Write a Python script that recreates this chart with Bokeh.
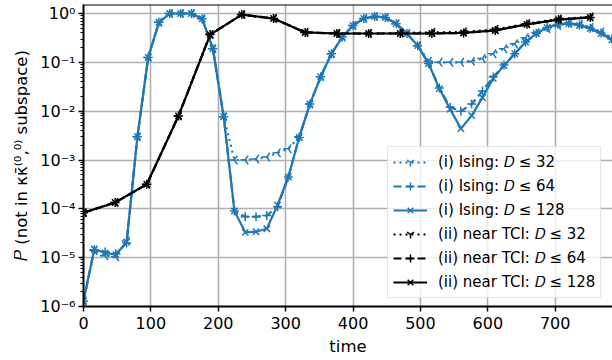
import math
from bokeh.plotting import figure
from bokeh.models import (Range1d, LogTicker, FixedTicker, CustomJSTickFormatter,
                          Legend, LegendItem, Span)
from bokeh.embed import file_html
from bokeh.resources import INLINE

# ---------------- data ----------------
t_ising = [0, 16, 32, 48, 64, 80, 96, 112, 128, 144, 160, 176, 192, 208, 224, 240,
           256, 272, 288, 304, 320, 336, 352, 368, 384, 400, 416, 432, 448, 464, 480,
           496, 512, 528, 544, 560, 576, 592, 608, 624, 640, 656, 672, 688, 704, 720,
           736, 752, 768, 784]

ising_128 = [1.3e-6, 1.5e-5, 1.25e-5, 1.15e-5, 2.1e-5, 3.0e-3, 0.126, 0.66, 1.0, 1.0,
             1.0, 0.78, 0.19, 7.7e-3, 9.0e-5, 3.3e-5, 3.4e-5, 3.9e-5, 1.2e-4, 4.5e-4,
             2.9e-3, 1.4e-2, 0.051, 0.15, 0.33, 0.57, 0.79, 0.87, 0.83, 0.62,
             0.39, 0.22, 0.095, 0.029, 0.011, 4.4e-3, 8.1e-3, 0.019, 0.047, 0.086,
             0.15, 0.26, 0.39, 0.52, 0.60, 0.62, 0.57, 0.49, 0.39, 0.29]

ising_64 = [1.3e-6, 1.45e-5, 1.3e-5, 1.2e-5, 2.0e-5, 3.0e-3, 0.126, 0.66, 1.0, 1.0,
            1.0, 0.78, 0.19, 7.7e-3, 9.0e-5, 6.9e-5, 6.9e-5, 7.3e-5, 1.1e-4, 4.5e-4,
            2.9e-3, 1.4e-2, 0.051, 0.15, 0.33, 0.57, 0.79, 0.87, 0.83, 0.62,
            0.39, 0.22, 0.095, 0.03, 0.012, 0.010, 0.014, 0.026, 0.05, 0.088,
            0.15, 0.26, 0.39, 0.52, 0.60, 0.63, 0.58, 0.50, 0.40, 0.30]

ising_32 = [1.3e-6, 1.4e-5, 1.1e-5, 1.05e-5, 2.2e-5, 3.0e-3, 0.126, 0.66, 1.0, 1.0,
            1.0, 0.78, 0.19, 7.7e-3, 1.0e-3, 1.0e-3, 1.05e-3, 1.15e-3, 1.4e-3, 1.7e-3,
            3.0e-3, 1.4e-2, 0.051, 0.15, 0.33, 0.57, 0.79, 0.87, 0.83, 0.62,
            0.39, 0.22, 0.105, 0.10, 0.10, 0.10, 0.105, 0.12, 0.15, 0.19,
            0.24, 0.32, 0.41, 0.49, 0.57, 0.63, 0.60, 0.52, 0.42, 0.32]

t_tci = [0, 47, 94, 141, 188, 235, 282, 329, 376, 423, 470, 517, 564, 611, 658, 705, 752]
tci_128 = [8.3e-5, 1.35e-4, 3.2e-4, 8.0e-3, 0.37, 0.95, 0.79, 0.41, 0.39, 0.39,
           0.39, 0.39, 0.40, 0.45, 0.60, 0.75, 0.83]
tci_64 = [8.3e-5, 1.35e-4, 3.2e-4, 8.0e-3, 0.37, 0.95, 0.79, 0.41, 0.39, 0.39,
          0.39, 0.39, 0.40, 0.45, 0.60, 0.75, 0.83]
tci_32 = [8.3e-5, 1.35e-4, 3.2e-4, 8.0e-3, 0.37, 0.95, 0.79, 0.41, 0.39, 0.39,
          0.40, 0.41, 0.42, 0.47, 0.62, 0.77, 0.85]

labels = ["(i) Ising: \U0001D437 \u2264 32", "(i) Ising: \U0001D437 \u2264 64",
          "(i) Ising: \U0001D437 \u2264 128", "(ii) near TCI: \U0001D437 \u2264 32",
          "(ii) near TCI: \U0001D437 \u2264 64", "(ii) near TCI: \U0001D437 \u2264 128"]

x_ticks = [0, 100, 200, 300, 400, 500, 600, 700]

# ---------------- figure ----------------
FONT = "DejaVu Sans"
BLUE = "#1f77b4"

p = figure(width=612, height=360, y_axis_type="log",
           x_range=Range1d(0, 785), y_range=Range1d(1e-6, 1.53),
           output_backend="svg", toolbar_location=None,
           min_border_left=83, min_border_right=0, min_border_top=4, min_border_bottom=54)
p.outline_line_color = None
p.background_fill_color = "white"
p.border_fill_color = "white"

p.add_layout(Span(location=1.53, dimension="width", line_color="black", line_width=2))

for ax in (p.xaxis[0], p.yaxis[0]):
    ax.axis_line_width = 2
    ax.axis_line_color = "black"
    ax.major_tick_line_width = 1.5
    ax.major_tick_out = 5
    ax.major_tick_in = 0
    ax.major_label_text_font = FONT
    ax.major_label_text_font_size = "16px"
    ax.major_label_text_color = "black"
    ax.axis_label_text_font = FONT
    ax.axis_label_text_font_size = "16.5px"
    ax.axis_label_text_font_style = "normal"
    ax.axis_label_text_color = "black"

p.xaxis.ticker = FixedTicker(ticks=x_ticks)
p.xaxis.minor_tick_line_color = None
p.xaxis.major_label_standoff = 5
p.xaxis.axis_label = "time"
p.xaxis.axis_label_standoff = 5

p.yaxis.ticker = LogTicker(num_minor_ticks=10)
p.yaxis.minor_tick_out = 3
p.yaxis.minor_tick_in = 0
p.yaxis.minor_tick_line_width = 1
p.yaxis.major_label_standoff = 3
p.yaxis.axis_label = "\U0001D443 (not in \u03ba\u03ba\u0304\u207d\u2070,\u2070\u207e subspace)"
p.yaxis.axis_label_standoff = 6
p.yaxis.formatter = CustomJSTickFormatter(code="""
const e = Math.round(Math.log10(tick));
const sup = {'-':'\u207b','0':'\u2070','1':'\u00b9','2':'\u00b2','3':'\u00b3','4':'\u2074',
             '5':'\u2075','6':'\u2076','7':'\u2077','8':'\u2078','9':'\u2079'};
return '10' + String(e).split('').map(c => sup[c]).join('');
""")

p.xgrid.ticker = FixedTicker(ticks=x_ticks)
for g in (p.xgrid[0], p.ygrid[0]):
    g.grid_line_color = "#b0b0b0"
    g.grid_line_width = 1.6

LW = 2.2
series = [
    (t_ising, ising_32, BLUE, "2 4", "y"),
    (t_ising, ising_64, BLUE, "8 4", "cross"),
    (t_ising, ising_128, BLUE, "solid", "x"),
    (t_tci, tci_32, "black", "2 4", "y"),
    (t_tci, tci_64, "black", "8 4", "cross"),
    (t_tci, tci_128, "black", "solid", "x"),
]

items = []
for (tx, yv, col, dash, mk), lab in zip(series, labels):
    lr = p.line(tx, yv, line_color=col, line_width=LW, line_dash=dash)
    if mk == "y":
        sr = p.scatter(tx, yv, marker="y", size=10, angle=-math.pi / 2,
                       line_color=col, line_width=1.5, fill_color=None)
    else:
        sr = p.scatter(tx, yv, marker=mk, size=9, line_color=col, line_width=1.5,
                       fill_color=None)
    items.append(LegendItem(label=lab, renderers=[lr, sr]))

legend = Legend(items=items, location=(304, 8))
legend.label_text_font = FONT
legend.label_text_font_size = "15px"
legend.label_text_color = "black"
legend.glyph_width = 34
legend.glyph_height = 20
legend.spacing = 4
legend.padding = 5
legend.margin = 0
legend.label_standoff = 11
legend.label_height = 20
legend.border_line_color = "#cccccc"
legend.border_line_width = 1
legend.background_fill_alpha = 0.8
p.add_layout(legend)

open("out.html", "w").write(file_html(p, INLINE))
